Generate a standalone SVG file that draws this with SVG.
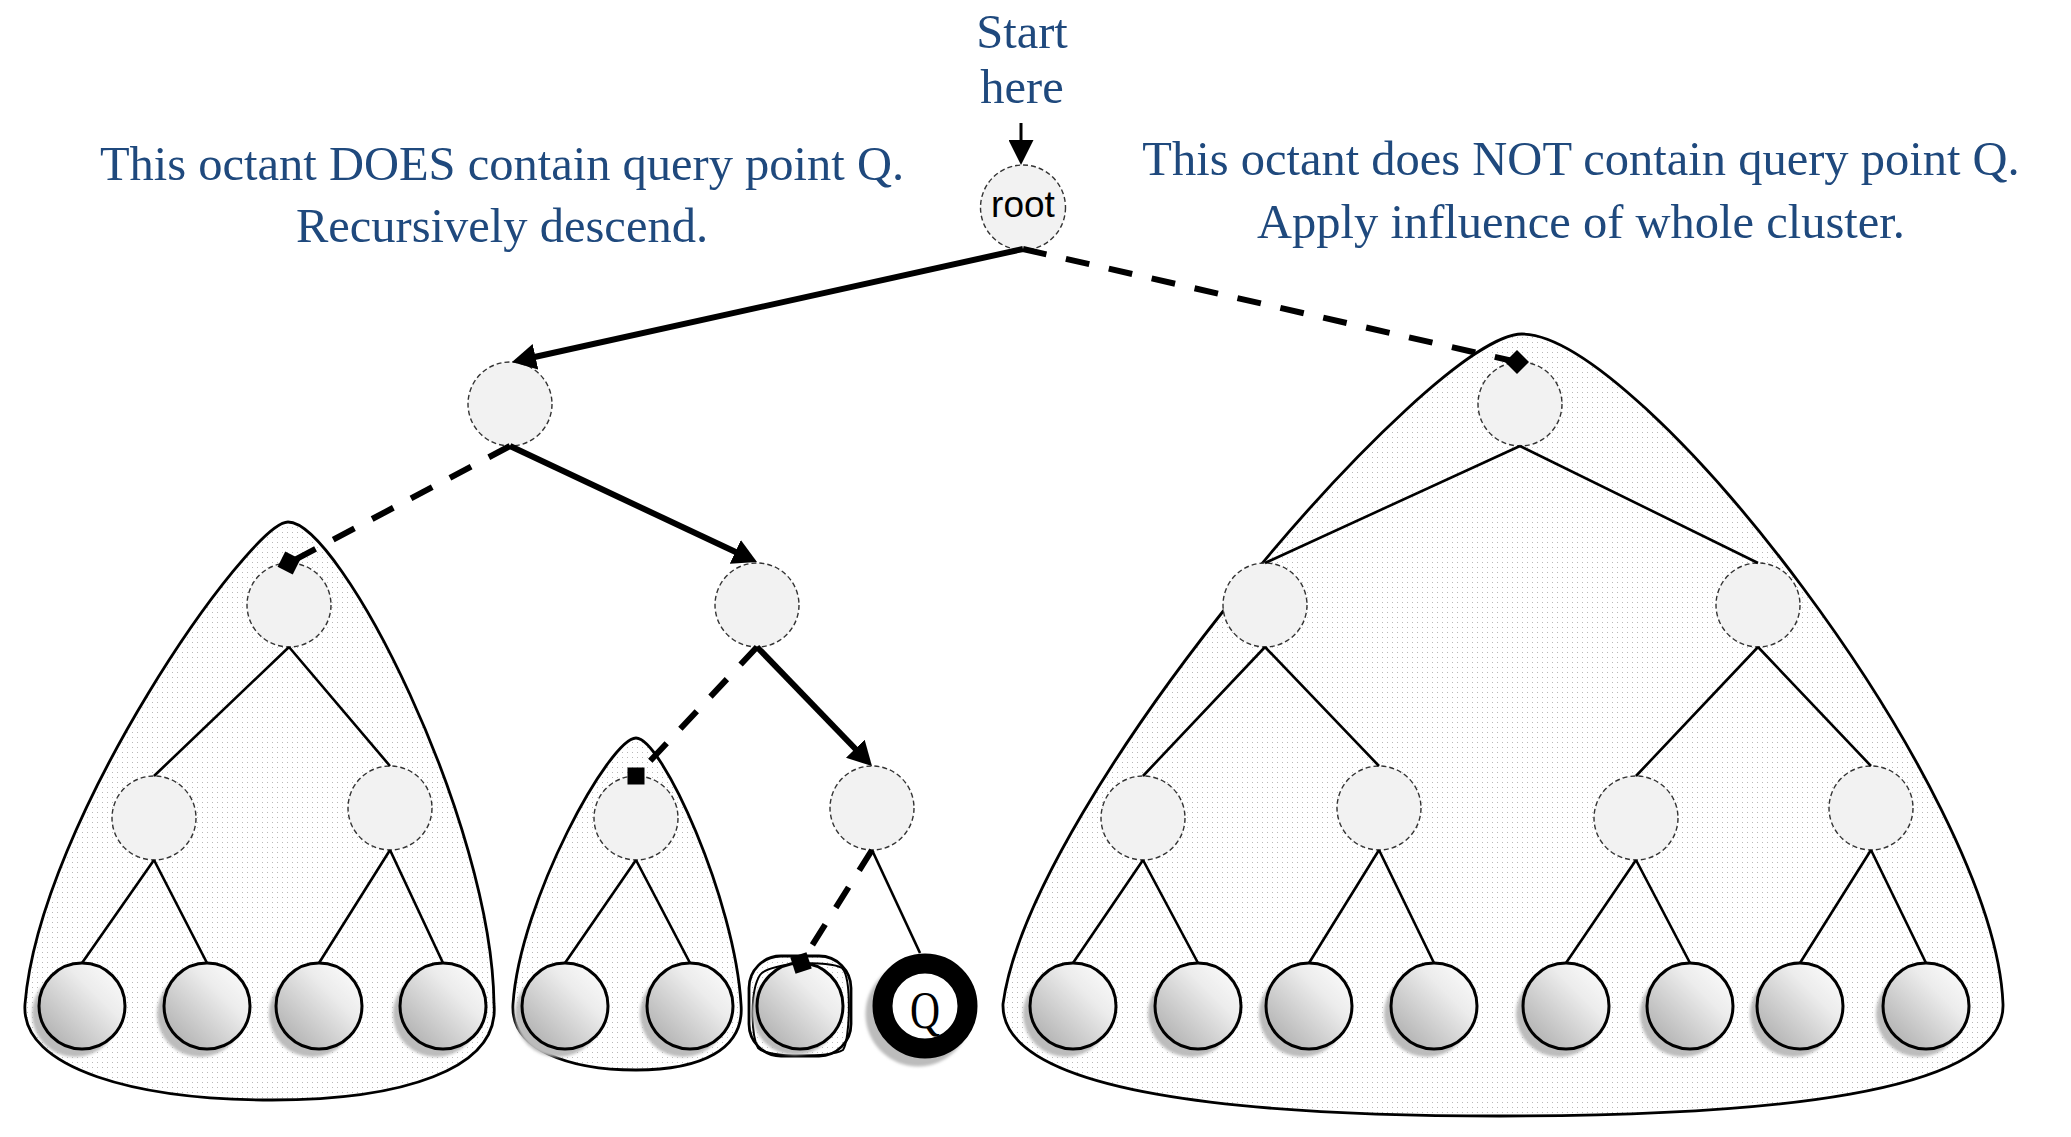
<svg xmlns="http://www.w3.org/2000/svg" width="2071" height="1137" viewBox="0 0 2071 1137">
<defs>
<style>
.lbl{font-family:"Liberation Serif","Times New Roman",serif;font-size:48.5px;fill:#1F497D;text-anchor:middle}
.rootlbl{font-family:"Liberation Sans",Arial,sans-serif;font-size:37px;fill:#000;text-anchor:middle}
.qlbl{font-family:"Liberation Serif","Times New Roman",serif;font-size:52px;fill:#000;text-anchor:middle}
.cluster{fill:url(#dots);stroke:#000;stroke-width:2.8}
.inode{fill:#f2f2f2;stroke:#333;stroke-width:1.4;stroke-dasharray:5 3}
.leaf{fill:url(#leafg);stroke:#000;stroke-width:3}
.shadow{fill:#bcbcbc;filter:url(#soft)}
.thin{stroke:#000;stroke-width:2.6;fill:none}
.thick{stroke:#000;stroke-width:6;fill:none}
.dash{stroke:#000;stroke-width:6;fill:none;stroke-dasharray:24 20}
.qring{fill:#fff;stroke:#000;stroke-width:20}
</style>
<pattern id="dots" width="5" height="5" patternUnits="userSpaceOnUse"><rect width="5" height="5" fill="#fff"/><rect x="2" y="2" width="1" height="1" fill="#b8b8b8"/></pattern>
<linearGradient id="leafg" x1="1" y1="0" x2="0" y2="1"><stop offset="0" stop-color="#ffffff"/><stop offset="0.35" stop-color="#ececec"/><stop offset="1" stop-color="#a6a6a6"/></linearGradient>
<filter id="soft" x="-20%" y="-20%" width="140%" height="140%"><feGaussianBlur stdDeviation="1.5"/></filter>
<marker id="head" viewBox="0 -13 24 26" refX="1" refY="0" markerWidth="24" markerHeight="26" markerUnits="userSpaceOnUse" orient="auto"><path d="M0,-13 L24,0 L0,13 Z" fill="#000"/></marker>
<marker id="head2" viewBox="0 -12.5 25 25" refX="1" refY="0" markerWidth="25" markerHeight="25" markerUnits="userSpaceOnUse" orient="auto"><path d="M0,-12.5 L25,0 L0,12.5 Z" fill="#000"/></marker>
<rect id="sq" x="-8.5" y="-8.5" width="17" height="17" fill="#000"/>
</defs>
<rect width="2071" height="1137" fill="#fff"/>

<g id="labels">
<text class="lbl" x="1022" y="48">Start</text>
<text class="lbl" x="1022" y="103">here</text>
<text class="lbl" x="502" y="180">This octant DOES contain query point Q.</text>
<text class="lbl" x="502" y="242">Recursively descend.</text>
<text class="lbl" x="1581" y="175">This octant does NOT contain query point Q.</text>
<text class="lbl" x="1581" y="238">Apply influence of whole cluster.</text>
</g>

<g id="clusters">
<path id="cluster-left" class="cluster" d="M288,522 C250,522 40,820 25,1004 C20,1070 140,1100 272,1100 C400,1100 500,1070 494,1004 C492,820 340,522 288,522 Z"/>
<path id="cluster-small" class="cluster" d="M636,738 C610,738 520,900 513,1004 C510,1050 570,1070 636,1070 C700,1070 745,1050 741,1004 C735,900 662,738 636,738 Z"/>
<path id="cluster-right" class="cluster" d="M1522,334 C1430,334 1030,800 1003,1004 C1000,1095 1250,1116 1500,1116 C1760,1116 2006,1095 2003,1004 C1995,790 1640,334 1522,334 Z"/>
<g id="cluster-single">
<rect x="749" y="956" width="102" height="100" rx="32" class="cluster"/>
<path d="M760,975 C770,962 830,960 842,968 C852,978 850,1040 843,1050 C830,1058 768,1058 758,1048 C751,1035 750,990 760,975 Z" fill="none" stroke="#000" stroke-width="2"/>
</g>
</g>

<g id="nodes">
<g id="root"><circle class="inode" cx="1023" cy="207.5" r="42.5"/><text class="rootlbl" x="1023" y="217">root</text></g>
<g id="n1a"><circle class="inode" cx="510" cy="404" r="42"/></g>
<g id="n1b"><circle class="inode" cx="1520" cy="404" r="42"/></g>
<g id="n2a"><circle class="inode" cx="289" cy="605" r="42"/></g>
<g id="n2b"><circle class="inode" cx="757" cy="605" r="42"/></g>
<g id="n2c"><circle class="inode" cx="1265" cy="605" r="42"/></g>
<g id="n2d"><circle class="inode" cx="1758" cy="605" r="42"/></g>
<g id="n3a"><circle class="inode" cx="154" cy="818" r="42"/></g>
<g id="n3b"><circle class="inode" cx="390" cy="808" r="42"/></g>
<g id="n3c"><circle class="inode" cx="636" cy="818" r="42"/></g>
<g id="n3d"><circle class="inode" cx="872" cy="808" r="42"/></g>
<g id="n3e"><circle class="inode" cx="1143" cy="818" r="42"/></g>
<g id="n3f"><circle class="inode" cx="1379" cy="808" r="42"/></g>
<g id="n3g"><circle class="inode" cx="1636" cy="818" r="42"/></g>
<g id="n3h"><circle class="inode" cx="1871" cy="808" r="42"/></g>

<g id="leaf1"><circle class="shadow" cx="75" cy="1014" r="43"/><circle class="leaf" cx="82" cy="1006" r="43"/></g>
<g id="leaf2"><circle class="shadow" cx="200" cy="1014" r="43"/><circle class="leaf" cx="207" cy="1006" r="43"/></g>
<g id="leaf3"><circle class="shadow" cx="312" cy="1014" r="43"/><circle class="leaf" cx="319" cy="1006" r="43"/></g>
<g id="leaf4"><circle class="shadow" cx="436" cy="1014" r="43"/><circle class="leaf" cx="443" cy="1006" r="43"/></g>
<g id="leaf5"><circle class="shadow" cx="558" cy="1014" r="43"/><circle class="leaf" cx="565" cy="1006" r="43"/></g>
<g id="leaf6"><circle class="shadow" cx="683" cy="1014" r="43"/><circle class="leaf" cx="690" cy="1006" r="43"/></g>
<g id="leaf7"><circle class="shadow" cx="795" cy="1012" r="43"/><circle class="leaf" cx="800" cy="1006" r="43"/></g>
<g id="leafQ"><circle class="shadow" cx="918" cy="1014" r="52.5"/><circle class="qring" cx="925" cy="1006" r="42.5"/><text class="qlbl" transform="translate(925,1028) scale(0.8,1)">Q</text></g>
<g id="leaf9"><circle class="shadow" cx="1066" cy="1014" r="43"/><circle class="leaf" cx="1073" cy="1006" r="43"/></g>
<g id="leaf10"><circle class="shadow" cx="1191" cy="1014" r="43"/><circle class="leaf" cx="1198" cy="1006" r="43"/></g>
<g id="leaf11"><circle class="shadow" cx="1302" cy="1014" r="43"/><circle class="leaf" cx="1309" cy="1006" r="43"/></g>
<g id="leaf12"><circle class="shadow" cx="1427" cy="1014" r="43"/><circle class="leaf" cx="1434" cy="1006" r="43"/></g>
<g id="leaf13"><circle class="shadow" cx="1559" cy="1014" r="43"/><circle class="leaf" cx="1566" cy="1006" r="43"/></g>
<g id="leaf14"><circle class="shadow" cx="1683" cy="1014" r="43"/><circle class="leaf" cx="1690" cy="1006" r="43"/></g>
<g id="leaf15"><circle class="shadow" cx="1793" cy="1014" r="43"/><circle class="leaf" cx="1800" cy="1006" r="43"/></g>
<g id="leaf16"><circle class="shadow" cx="1919" cy="1014" r="43"/><circle class="leaf" cx="1926" cy="1006" r="43"/></g>
</g>

<g id="connectors">
<line x1="1021" y1="123" x2="1021" y2="141" stroke="#000" stroke-width="3" marker-end="url(#head2)"/>
<path class="thick" d="M1023,249 L534.5,357" marker-end="url(#head)"/>
<path class="thick" d="M510,446 L736.2,552.3" marker-end="url(#head)"/>
<path class="thick" d="M757,647 L856,749.5" marker-end="url(#head)"/>
<path class="dash" d="M1023,249 L1517,362"/>
<use href="#sq" transform="translate(1517,362) rotate(45)"/>
<path class="dash" d="M510,446 L289,563"/>
<use href="#sq" transform="translate(289,563) rotate(27)"/>
<path class="dash" d="M757,647 L636,776"/>
<use href="#sq" transform="translate(636,776)"/>
<path class="dash" d="M872,850 L801,963"/>
<use href="#sq" transform="translate(801,963) rotate(-18)"/>
<path class="thin" d="M289,647 L154,776 M289,647 L390,766"/>
<path class="thin" d="M154,860 L82,963 M154,860 L207,963"/>
<path class="thin" d="M390,850 L319,963 M390,850 L443,963"/>
<path class="thin" d="M636,860 L565,963 M636,860 L690,963"/>
<path class="thin" d="M872,850 L920,953"/>
<path class="thin" d="M1520,446 L1265,563 M1520,446 L1758,563"/>
<path class="thin" d="M1265,647 L1143,776 M1265,647 L1379,766"/>
<path class="thin" d="M1758,647 L1636,776 M1758,647 L1871,766"/>
<path class="thin" d="M1143,860 L1073,963 M1143,860 L1198,963"/>
<path class="thin" d="M1379,850 L1309,963 M1379,850 L1434,963"/>
<path class="thin" d="M1636,860 L1566,963 M1636,860 L1690,963"/>
<path class="thin" d="M1871,850 L1800,963 M1871,850 L1926,963"/>
</g>
</svg>
